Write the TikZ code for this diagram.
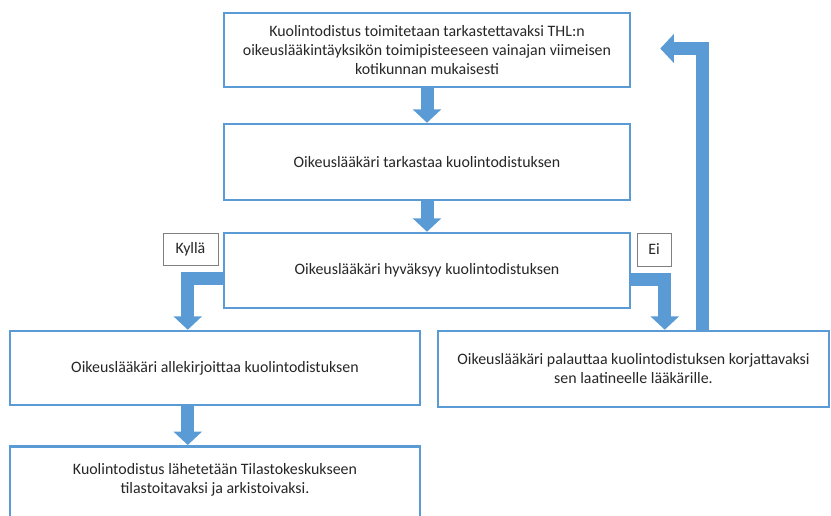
\documentclass[tikz,border=0pt]{standalone}
\usepackage{fontspec}
\setmainfont{Carlito}
\usetikzlibrary{arrows.meta,calc}
\definecolor{blu}{HTML}{5B9BD5}
\definecolor{lblgray}{HTML}{7F7F7F}
\begin{document}
\begin{tikzpicture}[x=1pt,y=-1pt,
  box/.style={draw=blu,line width=2.5pt,fill=white,inner sep=0pt,align=center,
    font=\fontsize{15.9}{19}\selectfont,text=black!85},
  lbl/.style={draw=lblgray,line width=1pt,fill=white,inner sep=0pt,
    font=\fontsize{15.9}{16}\selectfont,text=black!85},
  blk/.style={draw=blu,line width=13pt,line join=miter,line cap=butt,
    -{Triangle[width=28pt,length=13.5pt]}}]
\clip (0,0) rectangle (831,515);
\useasboundingbox (0,0) rectangle (831,515);
\node[box,minimum width=406pt,minimum height=74pt] (b1) at (427,50)
  {Kuolintodistus toimitetaan tarkastettavaksi THL:n\\oikeuslääkintäyksikön toimipisteeseen vainajan viimeisen\\kotikunnan mukaisesti};
\node[box,minimum width=406pt,minimum height=76pt] (b2) at (427,162)
  {Oikeuslääkäri tarkastaa kuolintodistuksen};
\node[box,minimum width=406pt,minimum height=75pt] (b3) at (427,270.5)
  {Oikeuslääkäri hyväksyy kuolintodistuksen};
\node[box,minimum width=410pt,minimum height=74pt] (b4) at (215,368)
  {Oikeuslääkäri allekirjoittaa kuolintodistuksen};
\node[box,minimum width=391pt,minimum height=76pt] (b5) at (633.5,369)
  {Oikeuslääkäri palauttaa kuolintodistuksen korjattavaksi\\sen laatineelle lääkärille.};
\node[box,minimum width=410pt,minimum height=80pt,anchor=north] (b6) at (215,445)
  {};
\node[font=\fontsize{15.9}{19}\selectfont,text=black!85,align=center] (t6) at (215,480)
  {Kuolintodistus lähetetään Tilastokeskukseen\\tilastoitavaksi ja arkistoivaksi.};
\node[lbl,minimum width=55pt,minimum height=32pt] (ky) at (190.5,249) {Kyllä};
\node[lbl,minimum width=34pt,minimum height=33pt] (ei) at (654,249.5) {Ei};
\draw[blk] (b1.south) -- (b2.north);
\draw[blk] (b2.south) -- (b3.north);
\draw[blk] ($(b3.west)+(0,8)$) -| ($(b4.north west)+(179,0)$);
\draw[blk] ($(b3.east)+(0,9)$) -| ($(b5.north west)+(228,0)$);
\draw[blk] ($(b5.north west)+(266,0)$) |- ($(b1.east)+(29,-1.5)$);
\draw[blk] ($(b4.south west)+(179,0)$) -- ($(b6.north west)+(179,0)$);
\end{tikzpicture}
\end{document}
